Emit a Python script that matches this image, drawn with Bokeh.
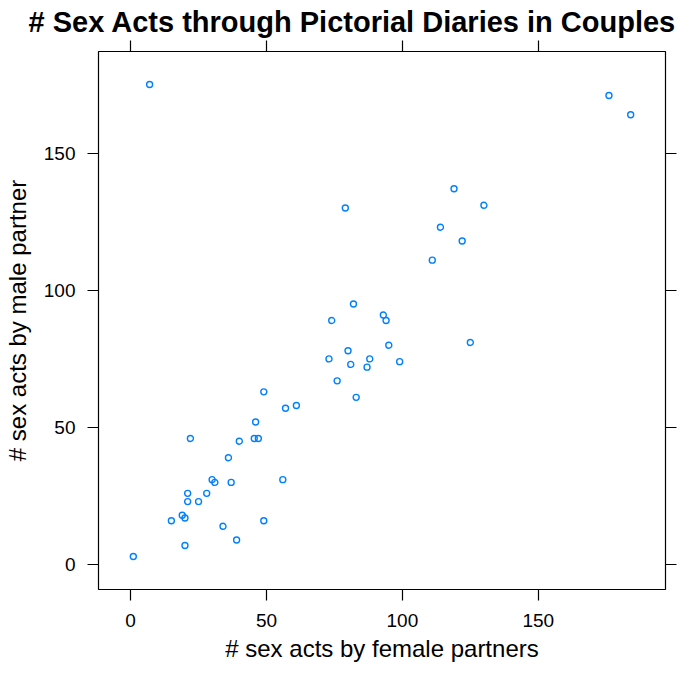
from bokeh.plotting import figure
from bokeh.models import Range1d, LinearAxis, FixedTicker, Title
from bokeh.embed import file_html
from bokeh.resources import INLINE

# Data: (female partner count, male partner count)
female = [7, 79, 74, 82, 93, 94, 125, 95, 80, 73, 81, 88, 87, 99, 76, 83,
          49, 57, 61, 46, 22, 45.5, 47, 40, 36, 30, 31, 37, 56, 21, 28, 21,
          25, 19, 20, 15, 49, 34, 39, 20, 1, 119, 130, 114, 122, 111, 176, 184]
male = [175, 130, 89, 95, 91, 89, 81, 80, 78, 75, 73, 75, 72, 74, 67, 61,
        63, 57, 58, 52, 46, 46, 46, 45, 39, 31, 30, 30, 31, 26, 26, 23,
        23, 18, 17, 16, 16, 14, 9, 7, 3, 137, 131, 123, 118, 111, 171, 164]
tick_values = [0, 50, 100, 150]

title_text = "# Sex Acts through Pictorial Diaries in Couples"
x_title = "# sex acts by female partners"
y_title = "# sex acts by male partner"

FONT = "Liberation Sans"
pad = 0.07
xmin, xmax = min(female), max(female)
ymin, ymax = min(male), max(male)
xr = Range1d(xmin - pad * (xmax - xmin), xmax + pad * (xmax - xmin))
yr = Range1d(ymin - pad * (ymax - ymin), ymax + pad * (ymax - ymin))

p = figure(frame_width=567, frame_height=538, x_range=xr, y_range=yr,
           output_backend="svg", toolbar_location=None,
           x_axis_location=None, y_axis_location=None,
           min_border_left=90, min_border_right=12,
           min_border_top=43, min_border_bottom=79)
p.xgrid.visible = False
p.ygrid.visible = False
p.outline_line_color = "black"
p.outline_line_width = 1.2
p.background_fill_color = "white"
p.border_fill_color = "white"


def make_axis(show_labels, label=None):
    ax = LinearAxis(ticker=FixedTicker(ticks=tick_values))
    ax.axis_line_color = None
    ax.major_tick_line_color = "black"
    ax.major_tick_line_width = 1.2
    ax.major_tick_out = 11
    ax.major_tick_in = 0
    ax.minor_tick_line_color = None
    ax.major_label_text_font = FONT
    ax.major_label_text_font_size = "19px"
    ax.major_label_text_color = "black"
    if not show_labels:
        ax.major_label_overrides = {v: "" for v in tick_values}
        ax.major_label_standoff = 0
    if label:
        ax.axis_label = label
        ax.axis_label_text_font = FONT
        ax.axis_label_text_font_size = "24px"
        ax.axis_label_text_font_style = "normal"
        ax.axis_label_text_color = "black"
    return ax


bottom = make_axis(True, x_title)
bottom.major_label_standoff = 13
bottom.axis_label_standoff = 5
left = make_axis(True, y_title)
left.major_label_standoff = 12
left.axis_label_standoff = 10
top = make_axis(False)
right = make_axis(False)

p.add_layout(bottom, "below")
p.add_layout(left, "left")
p.add_layout(top, "above")
p.add_layout(right, "right")

t = Title(text=title_text, text_font=FONT, text_font_size="29px",
          text_font_style="bold", text_color="black", align="left",
          standoff=6, offset=-70)
p.add_layout(t, "above")

p.scatter(female, male, marker="circle", size=6, fill_color=None,
          line_color="#0080ff", line_width=1.4)

open("out.html", "w").write(file_html(p, INLINE))
